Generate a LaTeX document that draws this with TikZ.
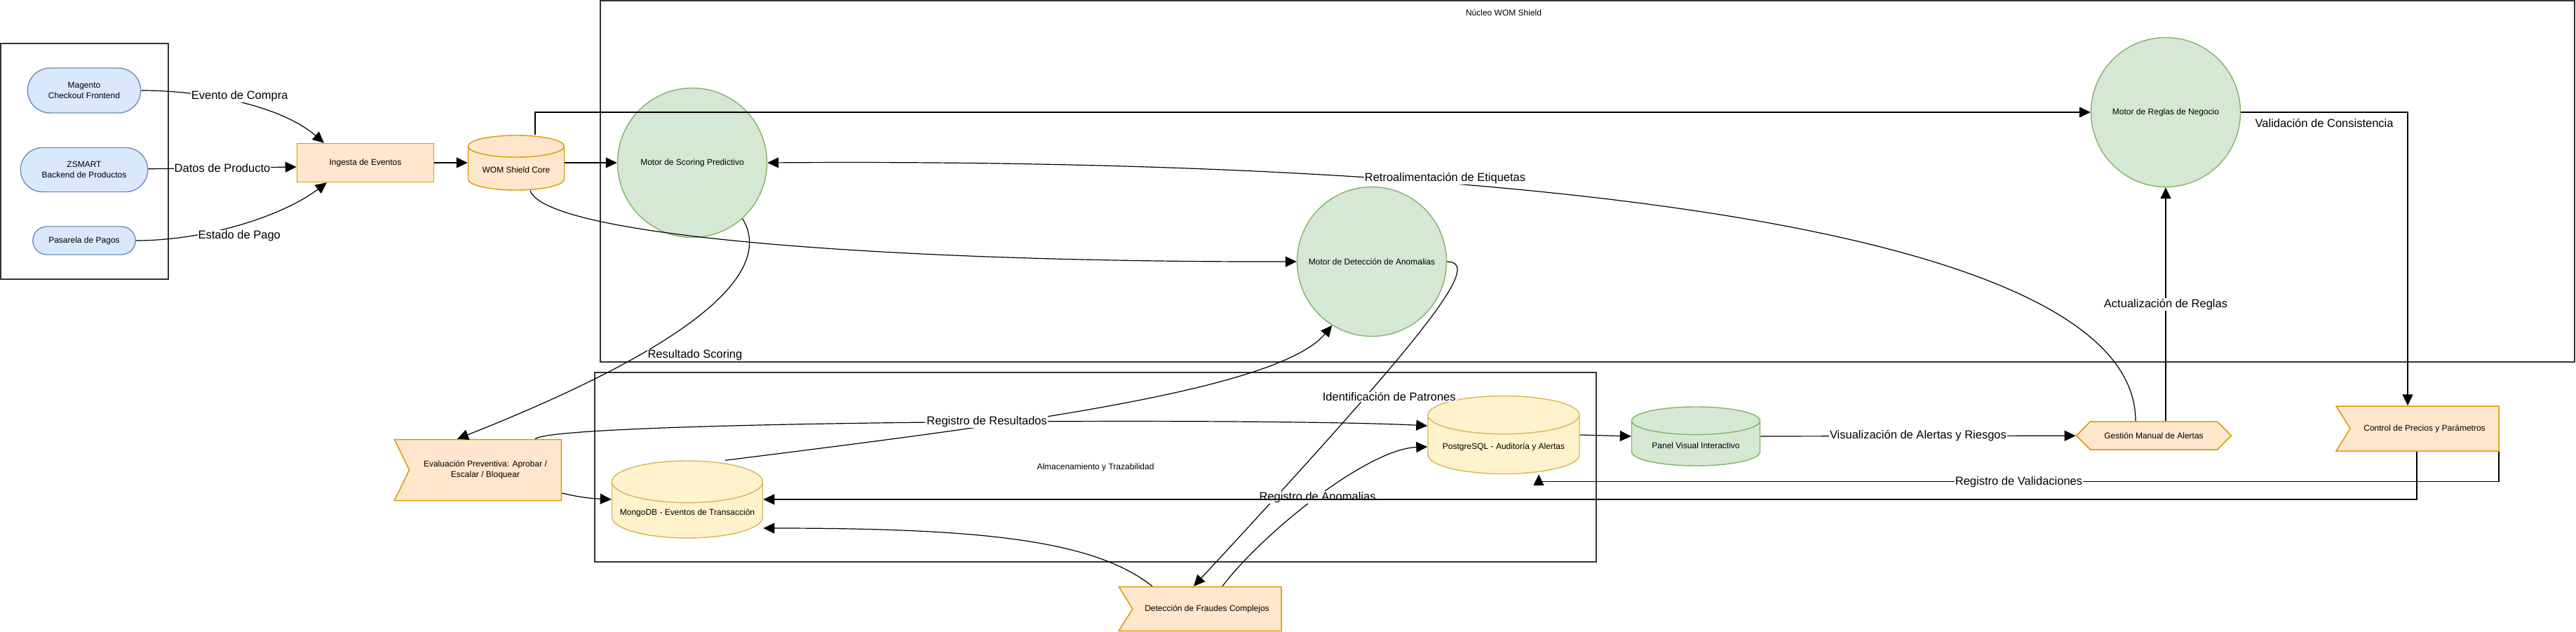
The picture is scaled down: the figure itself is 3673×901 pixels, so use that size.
\documentclass[tikz,border=0pt]{standalone}
\usepackage{fontspec}
\setmainfont{Liberation Sans}
\usetikzlibrary{arrows.meta,calc,positioning,shapes.geometric,shapes.misc,shapes.symbols}

\definecolor{azulF}{HTML}{DAE8FC}
\definecolor{azulB}{HTML}{6C8EBF}
\definecolor{naranjaF}{HTML}{FFE6CC}
\definecolor{naranjaB}{HTML}{D79B00}
\definecolor{verdeF}{HTML}{D5E8D4}
\definecolor{verdeB}{HTML}{82B366}
\definecolor{amarilloF}{HTML}{FFF2CC}
\definecolor{amarilloB}{HTML}{D6B656}
\newcommand{\ntxt}{\fontsize{12}{15}\selectfont}
\newcommand{\etxt}{\fontsize{16.5}{19}\selectfont}

\begin{document}
\begin{tikzpicture}[->,>={Triangle[length=16pt,width=15pt]},x=1pt,y=1pt,line width=1.2pt]
\tikzstyle{grupo}=[draw=black!80,line width=2.2pt,inner sep=0pt,font=\ntxt]
\tikzstyle{pill}=[rounded rectangle,draw=azulB,fill=azulF,line width=1.4pt,font=\ntxt,align=center]
\tikzstyle{proc}=[rectangle,draw=naranjaB,fill=naranjaF,line width=1.5pt,font=\ntxt]
\tikzstyle{motor}=[circle,draw=verdeB,fill=verdeF,line width=1.4pt,font=\ntxt,minimum size=213pt,inner sep=0pt]
\tikzstyle{bd}=[cylinder,shape border rotate=90,aspect=0.3,anchor=shape center,line width=1.4pt,font=\ntxt]
\tikzstyle{paso}=[signal,signal from=west,signal to=nowhere,draw=naranjaB,fill=naranjaF,line width=1.5pt,font=\ntxt,align=center]
\tikzstyle{hexa}=[signal,signal to=west and east,signal pointer angle=90,draw=naranjaB,fill=naranjaF,line width=1.5pt,font=\ntxt]
\tikzstyle{etq}=[fill=white,font=\etxt,inner sep=1pt]

\useasboundingbox (0,0) rectangle (3673,-901);

% grupos
\node[grupo,minimum width=239,minimum height=336] (externos) at (120.5,-230) {};
\node[grupo,minimum width=2815,minimum height=515] (nucleo) at (2263.5,-258.5) {};
\node[grupo,minimum width=1428,minimum height=270] (almacen) at (1562,-666) {Almacenamiento y Trazabilidad};
\node[font=\ntxt] (titulo) at (2144,-18) {Núcleo WOM Shield};

% sistemas externos
\node[pill,minimum width=168,minimum height=64] (magento) at (120,-129) {Magento\\Checkout Frontend};
\node[pill,minimum width=188,minimum height=63] (zsmart) at (120,-242) {ZSMART\\Backend de Productos};
\node[pill,minimum width=153,minimum height=40] (pasarela) at (120,-343) {Pasarela de Pagos};

% nucleo
\node[proc,minimum width=195,minimum height=55] (ingesta) at (521,-232) {Ingesta de Eventos};
\node[bd,draw=naranjaB,fill=naranjaF,minimum width=137,minimum height=78] (core) at (736,-232) {WOM Shield Core};
\node[motor] (scoring) at (987,-232) {Motor de Scoring Predictivo};
\node[motor] (anomalias) at (1956,-373) {Motor de Detección de Anomalias};
\node[motor] (reglas) at (3088,-160) {Motor de Reglas de Negocio};

% almacenamiento y salidas
\node[paso,minimum width=238,minimum height=87,signal pointer angle=128] (evaluacion) at (692,-670) {Evaluación Preventiva: Aprobar /\\Escalar / Bloquear};
\node[bd,draw=amarilloB,fill=amarilloF,minimum width=215,minimum height=110] (mongo) at (980,-712) {MongoDB - Eventos de Transacción};
\node[bd,draw=amarilloB,fill=amarilloF,minimum width=216,minimum height=111] (pg) at (2144,-620) {PostgreSQL - Auditoría y Alertas};
\node[bd,draw=verdeB,fill=verdeF,minimum width=183,minimum height=84] (panel) at (2418,-622) {Panel Visual Interactivo};
\node[hexa,minimum width=221,minimum height=40] (gestion) at (3071,-621) {Gestión Manual de Alertas};
\node[paso,minimum width=232,minimum height=64,signal pointer angle=116] (control) at (3457,-611) {Control de Precios y Parámetros};
\node[paso,minimum width=232,minimum height=63,signal pointer angle=116] (deteccion) at (1721,-868) {Detección de Fraudes Complejos};

% lados de los cilindros a media altura
\coordinate (coreO) at (core.west |- core.shape center);
\coordinate (coreE) at (core.east |- core.shape center);
\coordinate (mongoO) at (mongo.west |- mongo.shape center);
\coordinate (mongoE) at (mongo.east |- mongo.shape center);
\coordinate (pgO) at (pg.west |- pg.shape center);
\coordinate (pgE) at (pg.east |- pg.shape center);
\coordinate (panelO) at (panel.west |- panel.shape center);
\coordinate (panelE) at (panel.east |- panel.shape center);

\path
(zsmart) edge node[etq] (lblDatos) {Datos de Producto} ([yshift=-6]ingesta.west)
(ingesta) edge (coreO)
(coreE) edge (scoring)
(pgE) edge (panelO)
(panelE) edge node[etq] (lblVisual) {Visualización de Alertas y Riesgos} (gestion)
(gestion.north -| reglas.south) edge node[etq] (lblReglas) {Actualización de Reglas} (reglas);

\draw (magento.east) .. controls (290,-129) and (400,-150) .. node[etq,pos=0.5,yshift=9] (lblCompra) {Evento de Compra} ([xshift=-59]ingesta.north);
\draw (pasarela.east) .. controls (290,-343) and (400,-310) .. node[etq,pos=0.5,yshift=-16] (lblPago) {Estado de Pago} ([xshift=-55]ingesta.south);
\draw ([xshift=27]core.north) |- (reglas.west);
\draw ([xshift=20]core.south) .. controls (780,-340) and (1300,-374) .. (anomalias.west);
\draw (scoring.-48) .. controls (1100,-380) and (1020,-480) .. node[etq,pos=0.7,anchor=west,xshift=12] (lblScoring) {Resultado Scoring} ([xshift=-40]evaluacion.north);
\draw (anomalias.east) .. controls (2110,-374) and (2060,-450) .. node[etq,pos=0.7,xshift=34] (lblPatrones) {Identificación de Patrones} ([xshift=-19]deteccion.north);
\draw ([xshift=54]mongo.north) .. controls (1400,-610) and (1820,-560) .. (anomalias.238);
\draw ([xshift=71]evaluacion.north) .. controls (790,-600) and (1800,-595) .. node[etq,pos=0.55] (lblResultados) {Registro de Resultados} ([yshift=13]pgO);
\draw ([yshift=-33]evaluacion.east) .. controls (830,-710) and (850,-711) .. (mongoO);
\draw ([xshift=-78]deteccion.north) .. controls (1560,-770) and (1400,-753) .. ([yshift=-41]mongoE);
\draw ([xshift=22]deteccion.north) .. controls (1800,-760) and (1950,-640) .. node[etq] (lblAnomalias) {Registro de Anomalias} ([yshift=-17]pgO);
\draw ([xshift=-26]gestion.north) .. controls (3045,-320) and (2150,-225) .. node[etq,pos=0.67,yshift=7] (lblRetro) {Retroalimentación de Etiquetas} (scoring.east);
\draw (reglas.east) -| node[etq,pos=0.25,below=8pt] (lblConsist) {Validación de Consistencia} ([xshift=-24]control.north);
\draw ([xshift=106]control.south) -- ++(0,-43) -| node[etq,pos=0.25] (lblValid) {Registro de Validaciones} ([xshift=50]pg.south);
\draw ([xshift=-11]control.south) |- (mongoE);
\end{tikzpicture}
\end{document}
